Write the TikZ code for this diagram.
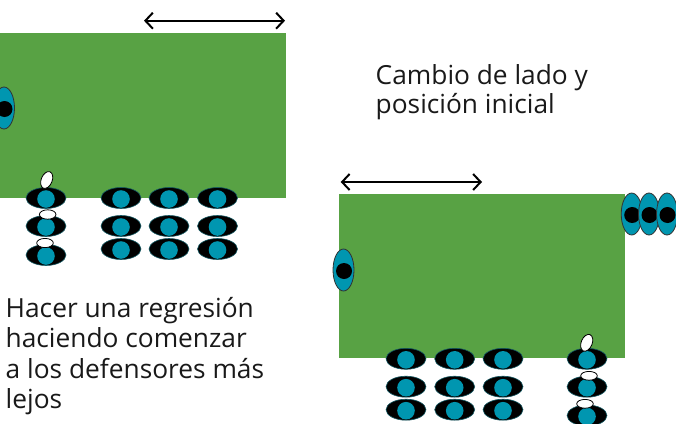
\documentclass[tikz,border=0pt]{standalone}
\usepackage{fontspec}
\setmainfont{Open Sans}
\usetikzlibrary{arrows.meta}
\definecolor{field}{RGB}{88,162,68}
\definecolor{tealc}{RGB}{0,150,176}
\definecolor{tealedge}{RGB}{20,90,100}
\tikzset{
  fieldbox/.style={fill=field, draw=none},
  widearrow/.style={{Straight Barb[length=7.5pt,width=16pt]}-{Straight Barb[length=7.5pt,width=16pt]}, line width=2pt, black},
  label/.style={font=\fontsize{26.3}{30}\selectfont, anchor=base west, inner sep=0pt, text=black!90},
  ball/.style={fill=white, draw=black, line width=0.8pt},
  pics/hplayer/.style={code={
    \fill[black, draw=tealedge, line width=0.6pt] (0,0) ellipse [x radius=20, y radius=10.5];
    \fill[tealc] (0,1) circle [radius=8.8];
  }},
  pics/vplayer/.style={code={
    \fill[tealc, draw=black!80, line width=0.8pt] (0,0) ellipse [x radius=10.5, y radius=21];
    \fill[black] (0.5,1) circle [radius=8];
  }}
}
\begin{document}
\begin{tikzpicture}[x=1pt, y=-1pt]
\useasboundingbox (0,0) rectangle (676,423);
% left field
\fill[fieldbox] (0,32.5) rectangle (286,197.5);
\coordinate (la1) at (144,20.7);
\coordinate (la2) at (285,20.7);
\draw[widearrow] (la1) -- (la2);
\pic at (4,108) {vplayer};
% left column with balls
\pic at (46,198) {hplayer};
\pic at (46,226) {hplayer};
\pic at (46,255) {hplayer};
\fill[ball, rotate around={-22:(46.7,180)}] (46.7,180) ellipse [x radius=5.5, y radius=8.8];
\fill[ball] (47.7,214.5) ellipse [x radius=8.3, y radius=4.7];
\fill[ball] (45,243) ellipse [x radius=8.3, y radius=4.6];
% left group
\foreach \x in {121,169,217.5}{
  \foreach \y in {198,226,249}{
    \pic at (\x,\y) {hplayer};
  }
}
% texts
\node[label] (t1) at (5.5,317.3) {Hacer una regresión};
\node[label] (t2) at (5.5,347.8) {haciendo comenzar};
\node[label] (t3) at (5.5,378.3) {a los defensores más};
\node[label] (t4) at (5.5,408.6) {lejos};
\node[label] (r1) at (375.5,84) {Cambio de lado y};
\node[label] (r2) at (375.5,113.5) {posición inicial};
% right field
\fill[fieldbox] (339.3,194) rectangle (625,358.3);
\coordinate (ra1) at (340.7,182);
\coordinate (ra2) at (482,182);
\draw[widearrow] (ra1) -- (ra2);
\pic at (343.5,270) {vplayer};
\pic at (631.7,214) {vplayer};
\pic at (649,214) {vplayer};
\pic at (667,214) {vplayer};
\foreach \x in {406,454.7,503}{
  \foreach \y in {358.8,386.7,409.7}{
    \pic at (\x,\y) {hplayer};
  }
}
\pic at (587,358.8) {hplayer};
\pic at (587,386.7) {hplayer};
\pic at (587,415.5) {hplayer};
\fill[ball, rotate around={-22:(586.7,342.8)}] (586.7,342.8) ellipse [x radius=5.5, y radius=8.8];
\fill[ball] (589,375.8) ellipse [x radius=8.3, y radius=4.4];
\fill[ball] (585,403.8) ellipse [x radius=8.3, y radius=4.4];
\end{tikzpicture}
\end{document}
